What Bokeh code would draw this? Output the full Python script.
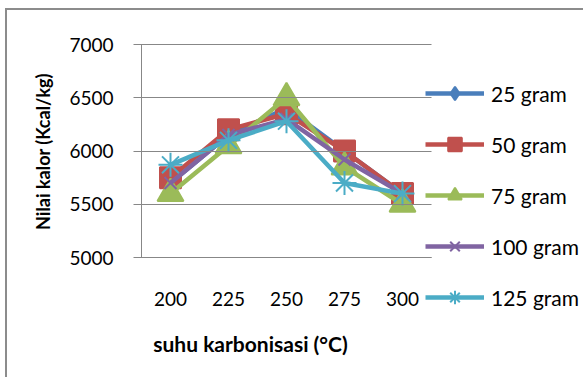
import math
from bokeh.plotting import figure
from bokeh.models import (Range1d, Legend, LegendItem, FixedTicker, Label)
from bokeh.embed import file_html
from bokeh.resources import INLINE

# ---- data ----
suhu = ["200", "225", "250", "275", "300"]
series_names = ["25 gram", "50 gram", "75 gram", "100 gram", "125 gram"]
v25 = [5700, 6150, 6400, 6000, 5600]
v50 = [5750, 6200, 6350, 6000, 5600]
v75 = [5600, 6050, 6500, 5850, 5500]
v100 = [5700, 6150, 6300, 5920, 5600]
v125 = [5870, 6100, 6280, 5700, 5600]
y_ticks = [5000, 5500, 6000, 6500, 7000]
x_title = "suhu karbonisasi (\u00b0C)"
y_title = "Nilai kalor (Kcal/kg)"

colors = ["#4A7EBB", "#C0504D", "#9BBB59", "#8064A2", "#4BACC6"]
markers = ["diamond", "square", "triangle", "x", "asterisk"]
sizes = [15, 21, 26, 17, 24]
values = [v25, v50, v75, v100, v125]

FONT = "Lato"
GRID = "#878787"
OX, OY = 7, 10              # page offset of the canvas (margin + border)
PLOT_L, PLOT_T = 141, 44    # page px of the plot area
PLOT_R, PLOT_B = 431, 257
CAT_W = 58                  # px per category
Y_MIN, Y_MAX = y_ticks[0], y_ticks[-1]

W, H = 585 - OX, 379 - OY
ppu = (PLOT_B - PLOT_T) / (Y_MAX - Y_MIN)
y_end = Y_MAX + (PLOT_T - OY) / ppu
y_start = y_end - H / ppu
x_start = -0.5 - (PLOT_L - OX) / CAT_W
x_end = x_start + W / CAT_W
x_idx = list(range(len(suhu)))

p = figure(width=W, height=H, output_backend="svg", toolbar_location=None,
           x_range=Range1d(x_start, x_end), y_range=Range1d(y_start, y_end),
           min_border_left=0, min_border_right=0, min_border_top=0,
           min_border_bottom=0)
p.styles = {"margin-left": "5px", "margin-top": "8px",
            "border-left": "2px solid #8c8c8c", "border-top": "2px solid #8c8c8c"}
p.outline_line_color = None
p.background_fill_color = "white"
p.border_fill_color = "white"
p.xgrid.grid_line_color = None
p.ygrid.grid_line_color = None

# y axis: ticks drawn inward across the plot area act as gridlines
ya = p.yaxis[0]
ya.fixed_location = -0.5
ya.ticker = FixedTicker(ticks=y_ticks)
ya.bounds = (Y_MIN, Y_MAX)
ya.axis_line_color = GRID
ya.major_tick_line_color = GRID
ya.major_tick_in = PLOT_R - PLOT_L
ya.major_tick_out = 8
ya.minor_tick_line_color = None
ya.major_label_standoff = 20
ya.major_label_text_font = FONT
ya.major_label_text_font_size = "19px"
ya.major_label_text_color = "#000000"

# x axis fixed at the bottom of the plot area
xa = p.xaxis[0]
xa.fixed_location = Y_MIN
xa.bounds = (-0.5, len(suhu) - 0.5)
xa.ticker = FixedTicker(ticks=x_idx)
xa.major_label_overrides = {i: s for i, s in zip(x_idx, suhu)}
xa.axis_line_color = GRID
xa.major_tick_line_color = None
xa.minor_tick_line_color = None
xa.major_tick_in = 0
xa.major_tick_out = 0
xa.major_label_standoff = 34
xa.major_label_text_font = FONT
xa.major_label_text_font_size = "19px"
xa.major_label_text_color = "#000000"

p.add_layout(Label(x=250 - OX, y=379 - 343, x_units="screen", y_units="screen",
                   text=x_title, text_align="center", text_baseline="middle",
                   text_font=FONT, text_font_style="bold", text_font_size="21px",
                   text_color="#000000"))
p.add_layout(Label(x=42 - OX, y=379 - 151, x_units="screen", y_units="screen",
                   text=y_title, angle=math.pi / 2, text_align="center",
                   text_baseline="middle",
                   text_font=FONT, text_font_style="bold", text_font_size="18px",
                   text_color="#000000"))

items = []
for name, vals, col, mk, sz in zip(series_names, values, colors, markers, sizes):
    r1 = p.line(x_idx, vals, line_color=col, line_width=4.5)
    r2 = p.scatter(x_idx, vals, marker=mk, size=sz, fill_color=col, line_color=col,
                   line_width=2)
    items.append(LegendItem(label=name, renderers=[r1, r2]))

GLYPH_H, SPACING = 34, 17
leg_h = len(items) * GLYPH_H + (len(items) - 1) * SPACING
leg_top = 93 - GLYPH_H / 2
legend = Legend(items=items, location=(425 - OX, 379 - (leg_top + leg_h)),
                orientation="vertical",
                glyph_width=59, glyph_height=GLYPH_H, label_height=GLYPH_H,
                spacing=SPACING, label_standoff=7, padding=0, margin=0,
                border_line_color=None, background_fill_alpha=0,
                label_text_font=FONT, label_text_font_size="21px",
                label_text_color="#000000")
p.add_layout(legend, "center")

open("out.html", "w").write(file_html(p, INLINE))
